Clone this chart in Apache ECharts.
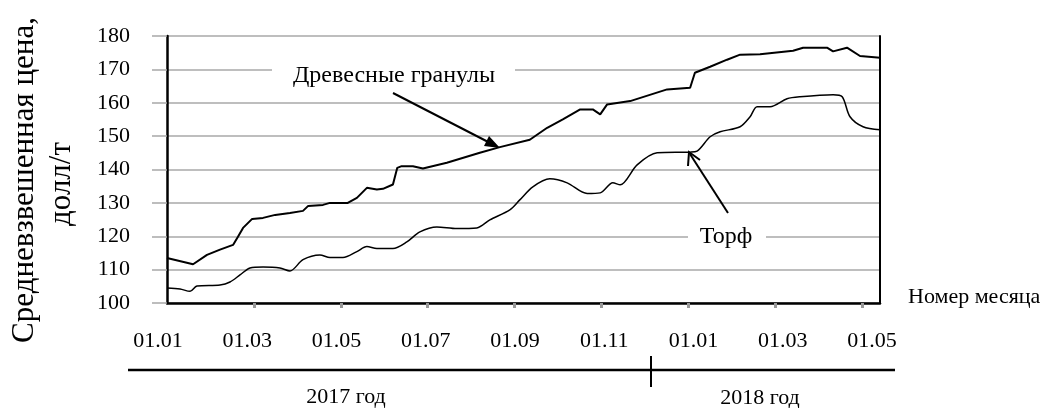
<!DOCTYPE html>
<html>
<head>
<meta charset="utf-8">
<script src="https://cdn.jsdelivr.net/npm/echarts@6/dist/echarts.min.js"></script>
<style>
  html, body { margin: 0; padding: 0; background: #fff; }
  #chart { width: 1048px; height: 408px; }
</style>
</head>
<body>
<div id="chart"></div>
<script>
// Данные (месяцы от 01.01.2017, цена долл/т)
const pelletMonths = [0, 0.60, 0.92, 1.22, 1.52, 1.63, 1.75, 1.96, 2.21, 2.49, 2.83, 3.13, 3.25, 3.59, 3.75, 4.16, 4.37, 4.60, 4.83, 4.97, 5.20, 5.30, 5.40, 5.66, 5.89, 6.44, 7.20, 7.66, 8.35, 8.75, 9.11, 9.51, 9.80, 9.97, 10.13, 10.66, 11.51, 12.04, 12.15, 12.50, 12.89, 13.19, 13.65, 14.41, 14.64, 15.19, 15.33, 15.65, 15.95, 16.41];
const pelletPrice  = [113.5, 111.6, 114.4, 116, 117.4, 119.8, 122.5, 125.2, 125.5, 126.4, 127, 127.6, 129.1, 129.4, 130, 130, 131.5, 134.5, 134, 134.2, 135.5, 140.5, 141, 141, 140.3, 142, 145, 146.7, 148.9, 152.5, 155, 158, 158, 156.5, 159.5, 160.5, 164, 164.5, 169, 170.8, 172.9, 174.4, 174.5, 175.6, 176.5, 176.5, 175.4, 176.5, 174, 173.5];

const peatMonths = [0, 0.30, 0.53, 0.69, 1.22, 1.45, 1.68, 1.91, 2.21, 2.60, 2.83, 3.13, 3.52, 3.75, 4.05, 4.37, 4.60, 4.83, 5.20, 5.52, 5.82, 6.21, 6.67, 7.13, 7.43, 7.89, 8.12, 8.42, 8.81, 9.21, 9.67, 9.97, 10.26, 10.43, 10.82, 11.28, 12.04, 12.20, 12.50, 12.73, 13.19, 13.42, 13.58, 13.88, 14.27, 14.57, 15.33, 15.54, 15.72, 16.02, 16.41];
const peatPrice  = [104.5, 104.2, 103.5, 105.1, 105.4, 106.3, 108.4, 110.5, 110.8, 110.5, 109.6, 113, 114.4, 113.6, 113.6, 115.4, 116.9, 116.3, 116.3, 118.3, 121.3, 122.8, 122.3, 122.5, 124.9, 127.9, 130.9, 134.8, 137.2, 136, 132.8, 133, 136, 135.4, 141.4, 145, 145.2, 145.5, 149.8, 151.3, 152.8, 155.8, 158.8, 158.8, 161.2, 161.8, 162.4, 161.8, 155.8, 152.8, 151.9];

const tickMonths = [2, 4, 6, 8, 10, 12, 14, 16];
const xLabels = ["01.01", "01.03", "01.05", "01.07", "01.09", "01.11", "01.01", "01.03", "01.05"];
const yearLabels = ["2017 год", "2018 год"];

const FONT = "Liberation Serif, Times New Roman, serif";
const GRID_COLOR = "#a8a8a8";

const chart = echarts.init(document.getElementById("chart"), null, { renderer: "canvas" });

const zip = (xs, ys) => xs.map((x, i) => [x, ys[i]]);

chart.setOption({
  backgroundColor: "#fff",
  animation: false,
  grid: [
    { left: 167, right: 168, top: 36, bottom: 105 },
    // сетка только для подписей месяцев
    { left: 158, right: 176, top: 36, bottom: 105 }
  ],
  xAxis: [
    {
      type: "value", min: 0, max: 16.41,
      axisLine: { show: true, onZero: false, lineStyle: { color: "#000", width: 2.5 } },
      axisTick: { show: true, customValues: tickMonths, length: 5, lineStyle: { color: "#999", width: 3 } },
      axisLabel: { show: false },
      splitLine: { show: false }
    },
    {
      gridIndex: 1, type: "value", min: 0, max: 8,
      axisLine: { show: false }, axisTick: { show: false }, splitLine: { show: false },
      axisLabel: {
        show: true, customValues: [0, 1, 2, 3, 4, 5, 6, 7, 8], margin: 27,
        formatter: v => xLabels[Math.round(v)] || "",
        color: "#000", fontFamily: FONT, fontSize: 22
      }
    }
  ],
  yAxis: [
    {
      type: "value", min: 100, max: 180, interval: 10,
      axisLine: { show: true, onZero: false, lineStyle: { color: "#000", width: 2.5 } },
      axisTick: { show: true, length: 15, lineStyle: { color: GRID_COLOR, width: 1.5 } },
      axisLabel: { color: "#000", fontFamily: FONT, fontSize: 22, margin: 37 },
      splitLine: { show: true, lineStyle: { color: GRID_COLOR, width: 1.5 } }
    },
    {
      type: "value", min: 100, max: 180, position: "right",
      axisLine: { show: true, onZero: false, lineStyle: { color: "#000", width: 2 } },
      axisTick: { show: false }, axisLabel: { show: false }, splitLine: { show: false }
    },
    {
      gridIndex: 1, type: "value", min: 100, max: 180, show: false
    }
  ],
  series: [
    {
      name: "Древесные гранулы", type: "line", showSymbol: false,
      data: zip(pelletMonths, pelletPrice),
      lineStyle: { color: "#000", width: 2 }, z: 5
    },
    {
      name: "Торф", type: "line", showSymbol: false, smooth: 0.3,
      data: zip(peatMonths, peatPrice),
      lineStyle: { color: "#000", width: 1.5 }, z: 5
    }
  ],
  graphic: [
    // подпись оси Y
    { type: "text", x: 25, y: 180, rotation: Math.PI / 2,
      style: { text: "Средневзвешенная цена,", font: "31px " + FONT, fill: "#000", align: "center", verticalAlign: "middle" } },
    { type: "text", x: 62, y: 184, rotation: Math.PI / 2,
      style: { text: "долл/т", font: "31px " + FONT, fill: "#000", align: "center", verticalAlign: "middle" } },
    // подпись оси X
    { type: "text", x: 908, y: 297,
      style: { text: "Номер месяца", font: "22px " + FONT, fill: "#000", align: "left", verticalAlign: "middle" } },
    // подписи рядов
    { type: "rect", shape: { x: 272, y: 62, width: 243, height: 28 }, style: { fill: "#fff" }, z: 10 },
    { type: "text", x: 394, y: 76, z: 11,
      style: { text: "Древесные гранулы", font: "24px " + FONT, fill: "#000", align: "center", verticalAlign: "middle" } },
    { type: "rect", shape: { x: 688, y: 224, width: 78, height: 28 }, style: { fill: "#fff" }, z: 10 },
    { type: "text", x: 726, y: 237, z: 11,
      style: { text: "Торф", font: "24px " + FONT, fill: "#000", align: "center", verticalAlign: "middle" } },
    // стрелки
    { type: "line", shape: { x1: 393, y1: 93, x2: 496, y2: 146 }, style: { stroke: "#000", lineWidth: 2 }, z: 11 },
    { type: "polygon", shape: { points: [[500, 148], [484, 146], [489, 136]] }, style: { fill: "#000" }, z: 11 },
    { type: "line", shape: { x1: 728, y1: 213, x2: 690, y2: 154 }, style: { stroke: "#000", lineWidth: 2 }, z: 11 },
    { type: "polyline", shape: { points: [[688, 166], [689, 152], [700, 160]] }, style: { stroke: "#000", lineWidth: 2, fill: null }, z: 11 },
    // шкала годов
    { type: "line", shape: { x1: 128, y1: 370, x2: 895, y2: 370 }, style: { stroke: "#000", lineWidth: 2.5 } },
    { type: "line", shape: { x1: 651, y1: 356, x2: 651, y2: 387 }, style: { stroke: "#000", lineWidth: 2 } },
    { type: "text", x: 346, y: 397,
      style: { text: yearLabels[0], font: "22px " + FONT, fill: "#000", align: "center", verticalAlign: "middle" } },
    { type: "text", x: 760, y: 398,
      style: { text: yearLabels[1], font: "22px " + FONT, fill: "#000", align: "center", verticalAlign: "middle" } }
  ]
});
</script>
</body>
</html>
